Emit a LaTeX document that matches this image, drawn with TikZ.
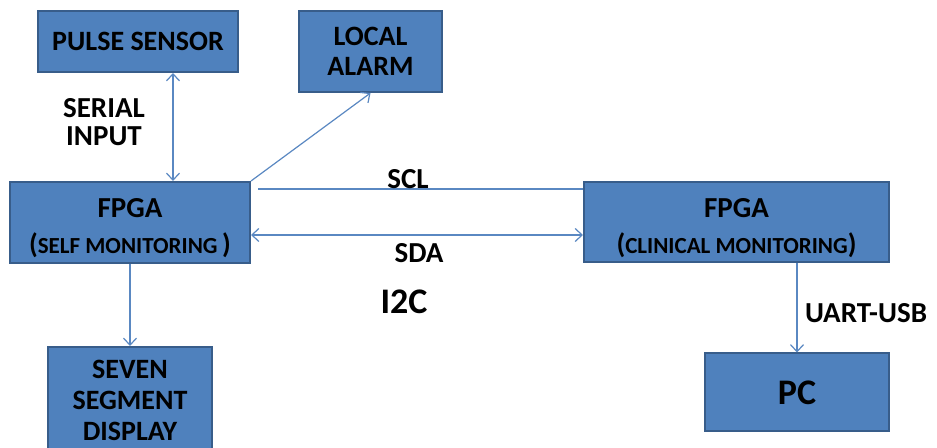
\documentclass[tikz,border=0pt]{standalone}
\usepackage{fontspec}
\setmainfont{Carlito}
\usetikzlibrary{arrows.meta,positioning}
\definecolor{boxblue}{HTML}{4F81BD}
\definecolor{boxedge}{HTML}{385D8A}
\definecolor{linkblue}{HTML}{5A88C2}

\begin{document}
\begin{tikzpicture}[x=0.5pt, y=-0.5pt,
  every node/.style={font=\fontsize{14}{15}\selectfont\bfseries},
  box/.style={draw=boxedge, line width=1pt, fill=boxblue, align=center, inner sep=0pt},
  ar/.style ={-{Straight Barb[length=3.5pt,width=6.5pt]}, line width=0.6pt, draw=linkblue},
  dar/.style={ar, {Straight Barb[length=3.5pt,width=6.5pt]}-{Straight Barb[length=3.5pt,width=6.5pt]}},
  ln/.style ={line width=0.6pt, draw=linkblue},
  tl/.style ={align=center, inner sep=0pt, font=\fontsize{14.5}{14}\selectfont\bfseries}
]
  \path[use as bounding box, fill=white] (0,0) rectangle (937,448);
  \clip (0,0) rectangle (937,448);
  % boxes
  \node[box, minimum width=120pt, minimum height=40.5pt] (self) at (130,222.5)
    {\rule{0pt}{15pt}{\fontsize{14.5}{18}\selectfont FPGA}\\[3pt]({\fontsize{11.5}{18}\selectfont SELF MONITORING}\,)};
  \node[box, minimum width=100pt, minimum height=30.5pt, above=54pt of self, xshift=4pt] (sensor) {PULSE SENSOR};
  \node[box, minimum width=71.5pt, minimum height=40.5pt, anchor=north west] (alarm)
    at ([xshift=29.5pt]sensor.north east) {LOCAL\\ALARM};
  \node[box, minimum width=152.5pt, minimum height=40pt, right=166pt of self] (clin)
    {\rule{0pt}{15pt}{\fontsize{14.5}{18}\selectfont FPGA}\\[3pt]({\fontsize{11.5}{18}\selectfont CLINICAL MONITORING})};
  \node[box, minimum width=92pt, minimum height=39pt, anchor=north east] (pc)
    at ([yshift=-44.5pt]clin.south east) {\fontsize{18}{20}\selectfont PC};
  \node[box, minimum width=82pt, minimum height=62pt, below=41pt of self, font=\fontsize{14}{15.5}\selectfont\bfseries] (seg)
    {SEVEN\\SEGMENT\\DISPLAY\rule[-9pt]{0pt}{9pt}};
  % links
  \draw[dar] ([xshift=17.5pt]sensor.south) -- ([xshift=17.5pt]sensor.south |- self.north);
  \draw[ar] (self.north east) -- (alarm.south);
  \draw[ln] ([xshift=3.5pt,yshift=-4pt]self.north east) -- ([yshift=-4pt]self.north east -| clin.west);
  \draw[dar] ([yshift=-6.25pt]self.east) -- ([yshift=-6.25pt]self.east -| clin.west);
  \draw[ar] (self) -- (seg);
  \draw[ar] (pc.north |- clin.south) -- (pc.north);
  % labels
  \node[tl] (serial) at (104,122) {SERIAL\\INPUT};
  \node[tl] (scl) at (408,179) {SCL};
  \node[tl] (sda) at (419,253) {SDA};
  \node[tl, font=\fontsize{18}{20}\selectfont\bfseries] (i2c) at (404,302) {I2C};
  \node[tl] (uart) at (866,313) {UART-USB};
\end{tikzpicture}
\end{document}
